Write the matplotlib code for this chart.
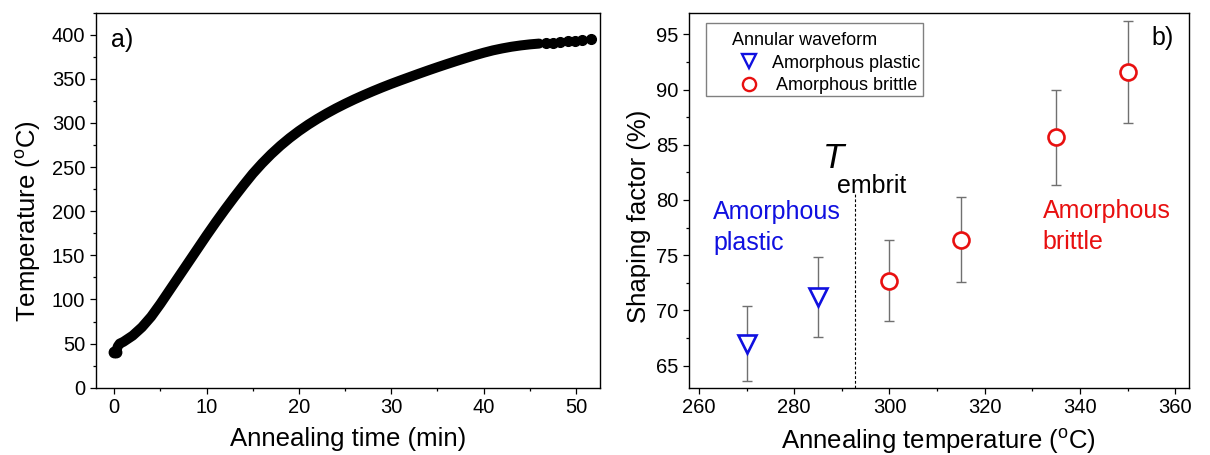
import matplotlib
matplotlib.use("Agg")
import matplotlib.pyplot as plt
from matplotlib.lines import Line2D
from matplotlib.patches import Rectangle
from matplotlib.ticker import MultipleLocator

plt.rcParams['font.family'] = ['Liberation Sans', 'DejaVu Sans']

# ---------------- data: panel a) heating curve ----------------
time_min = [0.0, 0.2, 0.4, 0.6, 1, 2, 3, 4, 5, 6, 7, 8, 9, 10,
            11, 12, 13, 14, 15, 16, 17, 18, 19, 20, 21, 22, 23, 24, 25,
            26, 27, 28, 29, 30, 31, 32, 33, 34, 35, 36, 37, 38, 39, 40,
            41, 42, 43, 44, 45, 46]
temp_C = [40.5, 41, 47, 50, 52, 59, 68.5, 80.5, 95, 110.5, 126, 141.5, 157, 172.5,
          187.5, 202, 216, 229.5, 242.5, 254.1, 264.7, 274.3, 283.0, 290.9, 298.1, 304.7,
          310.8, 316.5, 321.8, 326.8, 331.5, 336.0, 340.3, 344.4, 348.3, 352.1, 355.9,
          359.6, 363.2, 366.7, 370.1, 373.4, 376.6, 379.6, 382.3, 384.5, 386.4, 387.9,
          389.1, 390.0]
tail_time = [46.8, 47.5, 48.3, 49.1, 49.9, 50.7, 51.6]
tail_temp = [390.6, 391.2, 391.9, 392.6, 393.4, 394.2, 395.1]

# ---------------- data: panel b) shaping factor ----------------
plastic_T = [270, 285]
plastic_sf = [67.0, 71.2]
plastic_err = [3.4, 3.6]
brittle_T = [300, 315, 335, 350]
brittle_sf = [72.7, 76.4, 85.7, 91.6]
brittle_err = [3.65, 3.85, 4.3, 4.6]
t_embrit = 292.7

BLUE = '#1010E0'
RED = '#E81010'
TICK_FS = 14.5
LABEL_FS = 18.5

fig = plt.figure(figsize=(12.1, 4.55), dpi=100)
ax1 = fig.add_axes([0.0791, 0.1479, 0.4168, 0.8242])
ax2 = fig.add_axes([0.5693, 0.1479, 0.4131, 0.8242])

for ax in (ax1, ax2):
    for s in ax.spines.values():
        s.set_linewidth(1.0)
    ax.tick_params(which='both', direction='out', top=False, right=False,
                   labelsize=TICK_FS, width=0.9, pad=3.5)
    ax.tick_params(which='major', length=4.0)
    ax.tick_params(which='minor', length=2.2)

# ---- panel a ----
ax1.plot(time_min, temp_C, color='black', lw=7.2, solid_capstyle='round',
         solid_joinstyle='round', zorder=3)
ax1.plot(time_min[:2], temp_C[:2], ls='none', color='black', marker='o', ms=7.5, zorder=3)
ax1.plot(tail_time, tail_temp, ls='none', color='black', marker='o', ms=7, zorder=3)
ax1.set_xlim(-2.0, 52.6)
ax1.set_ylim(0, 425)
ax1.xaxis.set_major_locator(MultipleLocator(10))
ax1.xaxis.set_minor_locator(MultipleLocator(5))
ax1.yaxis.set_major_locator(MultipleLocator(50))
ax1.yaxis.set_minor_locator(MultipleLocator(25))
ax1.set_xlabel('Annealing time (min)', fontsize=LABEL_FS)
ax1.set_ylabel('Temperature ($\\mathregular{^{o}}$C)', fontsize=LABEL_FS)
ax1.xaxis.set_label_coords(0.5, -0.105)
ax1.yaxis.set_label_coords(-0.104, 0.445)
ax1.text(0.03, 0.927, 'a)', transform=ax1.transAxes, fontsize=18, va='center', ha='left')

# ---- panel b ----
ax2.errorbar(plastic_T, plastic_sf, yerr=plastic_err, fmt='none', ecolor='#707070',
             elinewidth=1.0, capsize=3.3, capthick=1.0, zorder=2)
ax2.errorbar(brittle_T, brittle_sf, yerr=brittle_err, fmt='none', ecolor='#707070',
             elinewidth=1.0, capsize=3.3, capthick=1.0, zorder=2)
ax2.plot(plastic_T, plastic_sf, ls='none', marker='v', ms=12.5, mfc='white',
         mec=BLUE, mew=1.9, zorder=3)
ax2.plot(brittle_T, brittle_sf, ls='none', marker='o', ms=11.5, mfc='white',
         mec=RED, mew=1.9, zorder=3)
ax2.set_xlim(257.9, 362.8)
ax2.set_ylim(63.0, 96.96)
ax2.xaxis.set_major_locator(MultipleLocator(20))
ax2.xaxis.set_minor_locator(MultipleLocator(10))
ax2.yaxis.set_major_locator(MultipleLocator(5))
ax2.yaxis.set_minor_locator(MultipleLocator(2.5))
ax2.set_xlabel('Annealing temperature ($\\mathregular{^{o}}$C)', fontsize=LABEL_FS)
ax2.set_ylabel('Shaping factor (%)', fontsize=LABEL_FS)
ax2.xaxis.set_label_coords(0.5, -0.105)
ax2.yaxis.set_label_coords(-0.076, 0.456)

# T_embrit marker line and label
ax2.plot([t_embrit, t_embrit], [63.0, 80.6], color='black', lw=0.8, ls=(0, (2.5, 1.8)), zorder=1)
ax2.text(286.1, 82.87, 'T', fontsize=25, style='italic', ha='left', va='baseline')
ax2.text(289.0, 80.6, 'embrit', fontsize=18, ha='left', va='baseline')

ax2.text(263.0, 78.25, 'Amorphous', color=BLUE, fontsize=18, ha='left', va='baseline')
ax2.text(263.0, 75.47, 'plastic', color=BLUE, fontsize=18, ha='left', va='baseline')
ax2.text(332.2, 78.34, 'Amorphous', color=RED, fontsize=18, ha='left', va='baseline')
ax2.text(332.2, 75.54, 'brittle', color=RED, fontsize=18, ha='left', va='baseline')
ax2.text(0.97, 0.932, 'b)', transform=ax2.transAxes, fontsize=18, va='center', ha='right')

# legend
handles = [Line2D([], [], ls='none', marker='v', ms=10, mfc='white', mec=BLUE, mew=1.7),
           Line2D([], [], ls='none', marker='o', ms=9.5, mfc='white', mec=RED, mew=1.7)]
leg = ax2.legend(handles, ['Amorphous plastic', ' Amorphous brittle'],
                 title='Annular waveform', title_fontsize=13, fontsize=13,
                 loc='upper left', bbox_to_anchor=(0.086, 0.949), borderaxespad=0,
                 frameon=False, handlelength=1.9, handletextpad=0.33,
                 labelspacing=0.32, borderpad=0.0, alignment='left')
ax2.add_patch(Rectangle((0.0344, 0.7779), 0.434, 0.1946, transform=ax2.transAxes,
                        fill=False, edgecolor='#808080', lw=1.0, zorder=4))

fig.savefig('out.png', dpi=100)
